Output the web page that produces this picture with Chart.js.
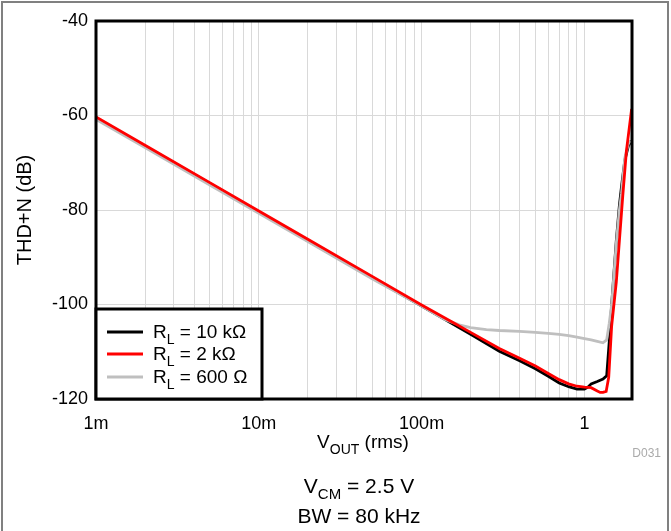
<!DOCTYPE html>
<html>
<head>
<meta charset="utf-8">
<script src="https://cdn.jsdelivr.net/npm/chart.js@4.4.1/dist/chart.umd.min.js"></script>
<style>
html, body { margin: 0; padding: 0; background: #fff; }
#wrap { position: relative; width: 671px; height: 531px; }
</style>
</head>
<body>
<div id="wrap"><canvas id="chartArea" width="671" height="531"></canvas></div>
<script>
// THD+N vs output voltage, three loads
const vout10k = [0.001, 0.002, 0.005, 0.01, 0.02, 0.05, 0.1, 0.15, 0.2, 0.3, 0.4, 0.5, 0.6, 0.7, 0.8, 0.9, 1.0, 1.05, 1.1, 1.2, 1.3, 1.37, 1.42, 1.47, 1.57, 1.64, 1.69, 1.77, 1.86, 1.92, 1.95];
const thd10k = [-60.5, -66.5, -74.4, -80.4, -86.5, -94.4, -100.3, -103.8, -106.3, -109.9, -111.9, -113.6, -115.2, -116.6, -117.4, -117.9, -117.9, -117.5, -116.8, -116.3, -115.8, -115.1, -108, -100, -86.5, -79, -75, -69.5, -66.5, -65.6, -65.4];

const vout2k = [0.001, 0.002, 0.005, 0.01, 0.02, 0.05, 0.1, 0.15, 0.2, 0.3, 0.4, 0.5, 0.6, 0.7, 0.8, 0.9, 1.0, 1.1, 1.2, 1.25, 1.3, 1.36, 1.41, 1.47, 1.57, 1.64, 1.72, 1.81, 1.95];
const thd2k = [-60.3, -66.3, -74.2, -80.2, -86.2, -94.1, -100.1, -103.5, -105.9, -109.3, -111.4, -113.0, -114.6, -115.9, -116.8, -117.3, -117.5, -117.6, -118.3, -118.6, -118.6, -118.4, -115.4, -104.5, -95.2, -86.5, -77, -67.6, -58.6];

const vout600 = [0.001, 0.002, 0.005, 0.01, 0.02, 0.05, 0.1, 0.12, 0.14, 0.17, 0.2, 0.25, 0.3, 0.4, 0.5, 0.6, 0.7, 0.8, 0.9, 1.0, 1.1, 1.2, 1.3, 1.37, 1.42, 1.47, 1.57, 1.64, 1.69, 1.77, 1.86, 1.92];
const thd600 = [-60.8, -66.8, -74.7, -80.7, -86.7, -94.6, -100.3, -101.9, -103.2, -104.3, -104.9, -105.3, -105.5, -105.7, -105.9, -106.1, -106.3, -106.6, -106.9, -107.2, -107.5, -107.8, -108.1, -107.5, -104, -100, -87, -80, -76.5, -69, -66, -65.3];

const xTickLabels = { 0.001: '1m', 0.01: '10m', 0.1: '100m', 1: '1' };
const xGridValues = [];
for (const dec of [0.001, 0.01, 0.1]) {
    for (let m = 1; m <= 9; m++) xGridValues.push(+(m * dec).toPrecision(3));
}
xGridValues.push(1);
const yTicks = [-120, -100, -80, -60, -40];

const FONT = '"Liberation Sans", Arial, Helvetica, sans-serif';

function pts(xs, ys) {
    return xs.map((x, i) => ({ x: x, y: ys[i] }));
}

// text with a subscript part: [main, sub, rest]
function subText(ctx, parts, x, y, size, align) {
    const [a, s, b] = parts;
    const subSize = Math.round(size * 0.72);
    ctx.font = size + 'px ' + FONT;
    const wa = ctx.measureText(a).width;
    const wb = ctx.measureText(b).width;
    ctx.font = subSize + 'px ' + FONT;
    const ws = ctx.measureText(s).width;
    const total = wa + ws + wb;
    let x0 = align === 'center' ? x - total / 2 : x;
    ctx.textAlign = 'left';
    ctx.textBaseline = 'alphabetic';
    ctx.font = size + 'px ' + FONT;
    ctx.fillText(a, x0, y);
    ctx.font = subSize + 'px ' + FONT;
    ctx.fillText(s, x0 + wa, y + size * 0.3);
    ctx.font = size + 'px ' + FONT;
    ctx.fillText(b, x0 + wa + ws, y);
}

const decorations = {
    id: 'decorations',
    afterDraw(chart) {
        const ctx = chart.ctx;
        const a = chart.chartArea;
        ctx.save();

        // outer figure border
        ctx.strokeStyle = '#808080';
        ctx.lineWidth = 2;
        ctx.strokeRect(2, 2, 666, 560);

        // plot frame
        ctx.strokeStyle = '#000';
        ctx.lineWidth = 3;
        ctx.strokeRect(a.left, a.top, a.right - a.left, a.bottom - a.top);

        // legend box
        const lx = a.left, ly = 309, lw = 166, lh = a.bottom - 309;
        ctx.fillStyle = '#fff';
        ctx.fillRect(lx, ly, lw, lh);
        ctx.strokeStyle = '#000';
        ctx.lineWidth = 3;
        ctx.strokeRect(lx, ly, lw, lh);
        const items = [
            ['#000000', ['R', 'L', ' = 10 k\u03A9']],
            ['#ff0000', ['R', 'L', ' = 2 k\u03A9']],
            ['#bfbfbf', ['R', 'L', ' = 600 \u03A9']]
        ];
        const rows = [332, 354, 377];
        items.forEach((it, i) => {
            ctx.strokeStyle = it[0];
            ctx.lineWidth = 3;
            ctx.beginPath();
            ctx.moveTo(107, rows[i]);
            ctx.lineTo(143, rows[i]);
            ctx.stroke();
            ctx.fillStyle = '#000';
            subText(ctx, it[1], 153, rows[i] + 6, 19, 'left');
        });

        // axis titles
        ctx.fillStyle = '#000';
        ctx.save();
        ctx.translate(25, 210);
        ctx.rotate(-Math.PI / 2);
        ctx.font = '20px ' + FONT;
        ctx.textAlign = 'center';
        ctx.textBaseline = 'middle';
        ctx.fillText('THD+N (dB)', 0, 0);
        ctx.restore();

        subText(ctx, ['V', 'OUT', ' (rms)'], 363, 448, 19, 'center');

        // notes
        subText(ctx, ['V', 'CM', ' = 2.5 V'], 359, 493, 21, 'center');
        ctx.font = '21px ' + FONT;
        ctx.textAlign = 'center';
        ctx.textBaseline = 'middle';
        ctx.fillText('BW = 80 kHz', 359, 517);

        ctx.fillStyle = '#aaaaaa';
        ctx.font = '12px ' + FONT;
        ctx.textAlign = 'right';
        ctx.fillText('D031', 661, 454);
        ctx.restore();
    }
};

const ctx = document.getElementById('chartArea');
const config = {
    type: 'line',
    data: {
        datasets: [
            {
                label: 'RL = 10 kΩ',
                data: pts(vout10k, thd10k),
                borderColor: '#000000',
                borderWidth: 2.8,
                order: 3
            },
            {
                label: 'RL = 2 kΩ',
                data: pts(vout2k, thd2k),
                borderColor: '#ff0000',
                borderWidth: 2.8,
                order: 1
            },
            {
                label: 'RL = 600 Ω',
                data: pts(vout600, thd600),
                borderColor: '#bfbfbf',
                borderWidth: 2.8,
                order: 2
            }
        ]
    },
    options: {
        responsive: false,
        animation: false,
        devicePixelRatio: 1,
        elements: { point: { radius: 0 }, line: { tension: 0 } },
        layout: { padding: { top: 21, right: 39, left: 0, bottom: 0 } },
        plugins: {
            legend: { display: false },
            tooltip: { enabled: false }
        },
        scales: {
            x: {
                type: 'logarithmic',
                min: 0.001,
                max: 1.96,
                afterBuildTicks: scale => {
                    scale.ticks = xGridValues.map(v => ({ value: v }));
                },
                afterFit: scale => { scale.height = 132; },
                ticks: {
                    autoSkip: false,
                    maxRotation: 0,
                    padding: 14,
                    color: '#000',
                    font: { family: FONT, size: 18 },
                    callback: v => xTickLabels[+(+v).toPrecision(3)] || ''
                },
                grid: { color: '#d9d9d9', lineWidth: 1, drawTicks: false },
                border: { display: false }
            },
            y: {
                min: -120,
                max: -40,
                afterBuildTicks: scale => {
                    scale.ticks = yTicks.map(v => ({ value: v }));
                },
                afterFit: scale => { scale.width = 96; },
                ticks: {
                    padding: 8,
                    color: '#000',
                    font: { family: FONT, size: 18 }
                },
                grid: { color: '#d9d9d9', lineWidth: 1, drawTicks: false },
                border: { display: false }
            }
        }
    },
    plugins: [decorations]
};
const chart = new Chart(ctx, config);
</script>
</body>
</html>
